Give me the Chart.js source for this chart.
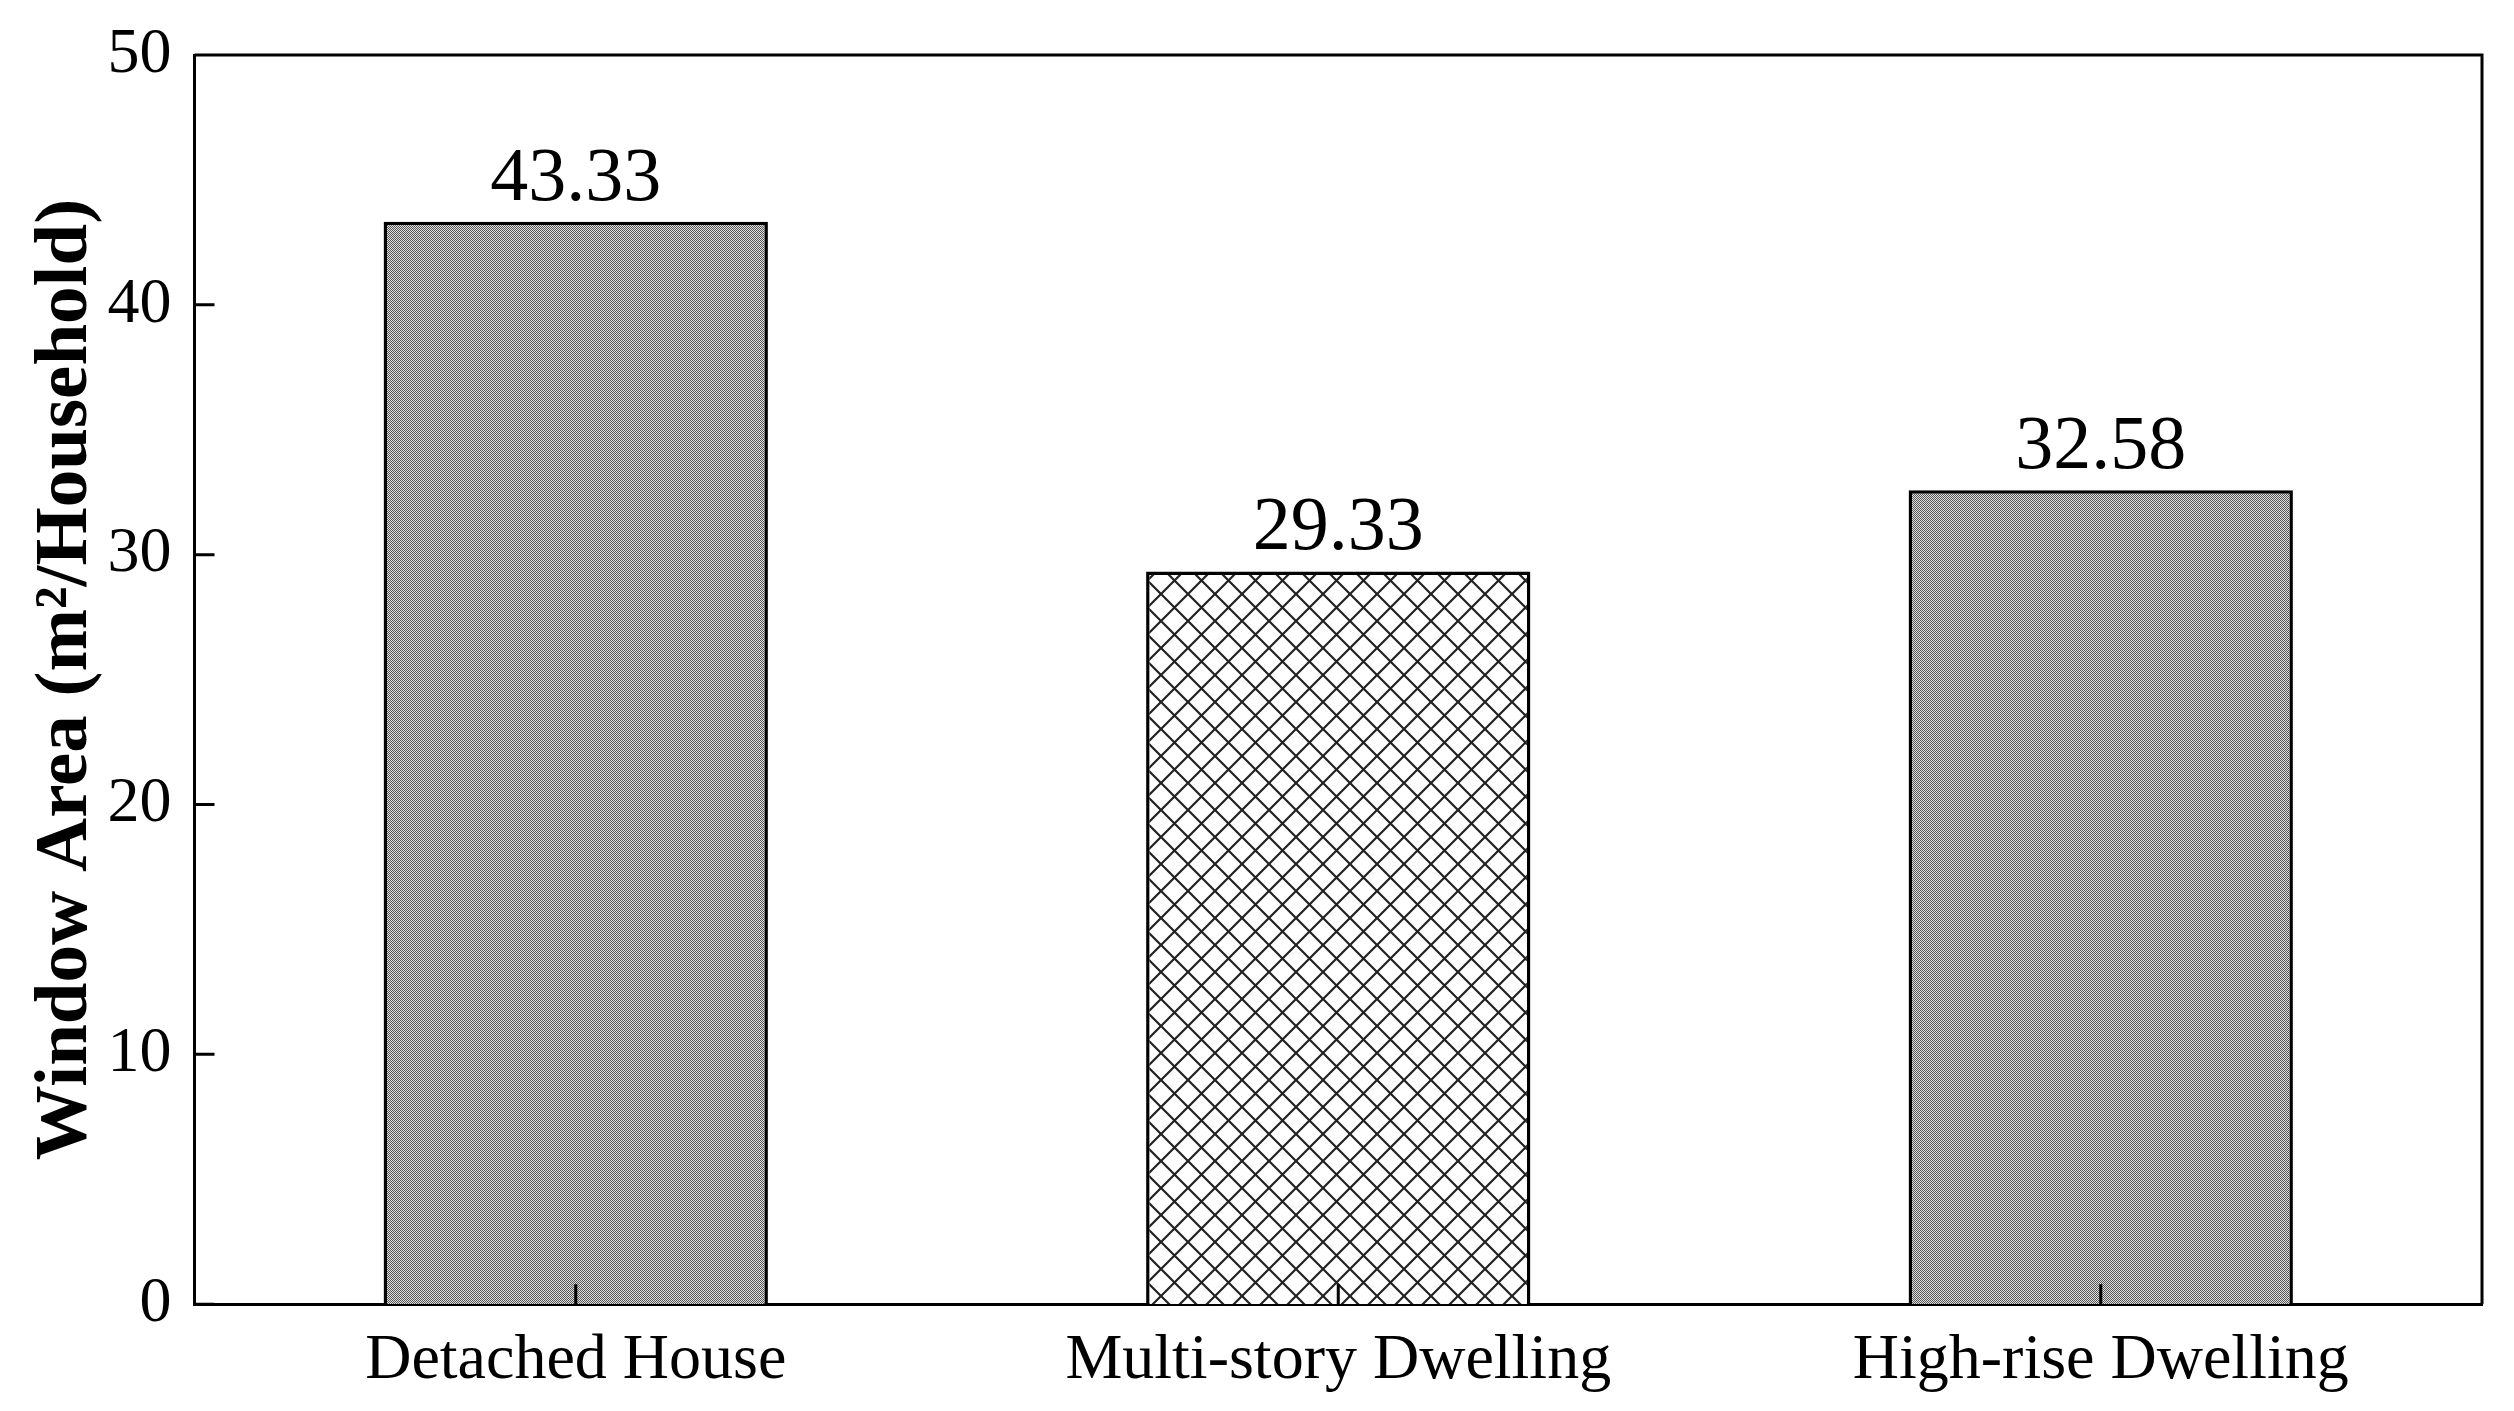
<!DOCTYPE html>
<html>
<head>
<meta charset="utf-8">
<script src="https://cdn.jsdelivr.net/npm/chart.js@4/dist/chart.umd.min.js"></script>
<style>
  html, body { margin: 0; padding: 0; background: #fff; }
  #wrap { width: 2514px; height: 1411px; }
</style>
</head>
<body>
<div id="wrap"><canvas id="areaChart"></canvas></div>
<script>
const categories = ['Detached House', 'Multi-story Dwelling', 'High-rise Dwelling'];
const windowArea = [43.33, 29.33, 32.58];
const valueLabels = ['43.33', '29.33', '32.58'];
const yTicks = [0, 10, 20, 30, 40, 50];

const serif = '"Liberation Serif", "Times New Roman", serif';

// dense halftone gray used on the 1st and 3rd bar
function halftone() {
    const c = document.createElement('canvas');
    c.width = c.height = 2;
    const g = c.getContext('2d');
    g.fillStyle = '#e0e0e0'; g.fillRect(0, 0, 2, 2);
    g.fillStyle = '#555555'; g.fillRect(0, 0, 1, 1); g.fillRect(1, 1, 1, 1);
    return g.createPattern(c, 'repeat');
}

// diagonal cross hatch for the middle bar
function crossHatch(s) {
    const c = document.createElement('canvas');
    c.width = c.height = s;
    const g = c.getContext('2d');
    g.fillStyle = '#fff'; g.fillRect(0, 0, s, s);
    g.strokeStyle = '#222'; g.lineWidth = 2.2;
    g.beginPath();
    g.moveTo(-2, -2); g.lineTo(s + 2, s + 2);
    g.moveTo(-2, s + 2); g.lineTo(s + 2, -2);
    g.stroke();
    return g.createPattern(c, 'repeat');
}

const fills = [halftone(), crossHatch(27), halftone()];

const framePlugin = {
    id: 'frame',
    afterDraw(chart) {
        const { ctx, chartArea: a, scales } = chart;
        ctx.save();
        ctx.strokeStyle = '#000';
        ctx.lineWidth = 3;
        ctx.beginPath();
        ctx.moveTo(a.left, a.top); ctx.lineTo(a.right, a.top); ctx.lineTo(a.right, a.bottom);
        // inward ticks
        scales.y.ticks.forEach((t, i) => {
            const y = scales.y.getPixelForTick(i);
            ctx.moveTo(a.left, y); ctx.lineTo(a.left + 20, y);
        });
        scales.x.ticks.forEach((t, i) => {
            const x = scales.x.getPixelForTick(i);
            ctx.moveTo(x, a.bottom); ctx.lineTo(x, a.bottom - 20);
        });
        ctx.stroke();

        // value labels over bars
        ctx.fillStyle = '#000';
        ctx.font = '76px ' + serif;
        ctx.textAlign = 'center';
        ctx.textBaseline = 'alphabetic';
        chart.getDatasetMeta(0).data.forEach((bar, i) => {
            ctx.fillText(valueLabels[i], bar.x, bar.y - 22);
        });
        ctx.restore();
    }
};

new Chart(document.getElementById('areaChart'), {
    type: 'bar',
    data: {
        labels: categories,
        datasets: [{
            data: windowArea,
            backgroundColor: fills,
            borderColor: '#000',
            borderWidth: 3.5,
            barPercentage: 0.504,
            categoryPercentage: 1.0,
        }]
    },
    options: {
        responsive: true,
        maintainAspectRatio: false,
        animation: false,
        layout: { padding: { left: 40, right: 32, top: 55, bottom: 0 } },
        plugins: {
            legend: { display: false },
            tooltip: { enabled: false },
        },
        scales: {
            x: {
                grid: { display: false },
                border: { display: true, color: '#000', width: 3 },
                ticks: { color: '#000', font: { family: serif, size: 64 }, padding: 11, maxRotation: 0 },
            },
            y: {
                min: yTicks[0],
                max: yTicks[yTicks.length - 1],
                grid: { display: false },
                border: { display: true, color: '#000', width: 3 },
                ticks: { stepSize: yTicks[1] - yTicks[0], color: '#000', font: { family: serif, size: 64 }, padding: 15 },
                title: {
                    display: true,
                    text: 'Window Area (m²/Household)',
                    color: '#000',
                    font: { family: serif, size: 75, weight: 'bold', lineHeight: 0.7 },
                    padding: { top: 0, bottom: 0 },
                },
            },
        }
    },
    plugins: [framePlugin]
});
</script>
</body>
</html>
